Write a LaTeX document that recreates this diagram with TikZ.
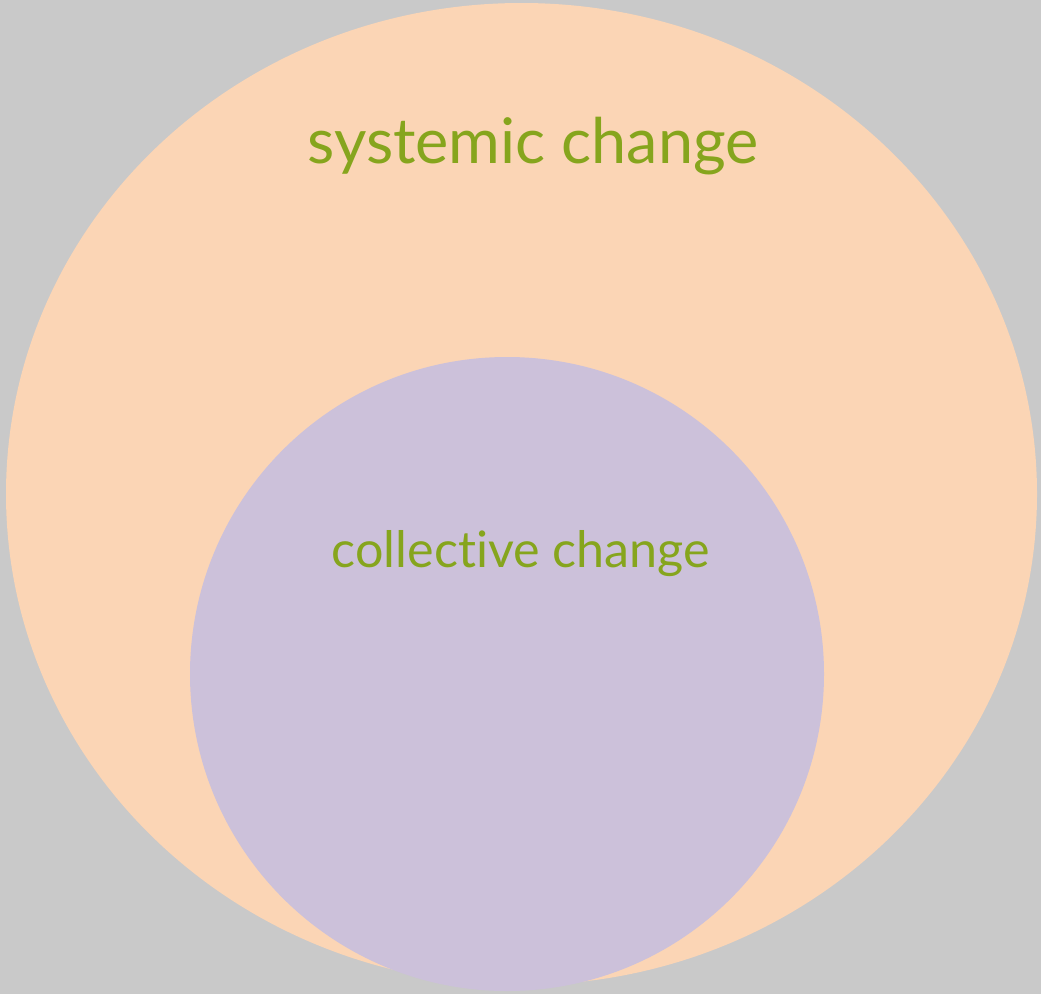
\documentclass[tikz,border=0pt]{standalone}
\usepackage{fontspec}
\setmainfont{Lato}[Ligatures=NoCommon]
\usepackage{tikz}

\definecolor{backgrey}{HTML}{C9C9C9}
\definecolor{peach}{HTML}{FBD5B5}
\definecolor{lavender}{HTML}{CCC1DA}
\definecolor{labelgreen}{HTML}{86A51D}

\begin{document}
\begin{tikzpicture}[x=0.02cm,y=-0.02cm,label/.style={text=labelgreen,inner sep=0pt}]
			\fill[backgrey] (0,0) rectangle (1041,994);
			\useasboundingbox (0,0) rectangle (1041,994);
			\fill[peach]    (521.5,494) ellipse [x radius=515.5, y radius=491];
			\fill[lavender] (507,674) circle [radius=317];
			\node[label] (S) at (533,146) {\fontsize{35.8}{42}\selectfont systemic change};
			\node[label] (C) at (521,554) {\fontsize{28.6}{34}\selectfont collective change};
		\end{tikzpicture}
\end{document}
